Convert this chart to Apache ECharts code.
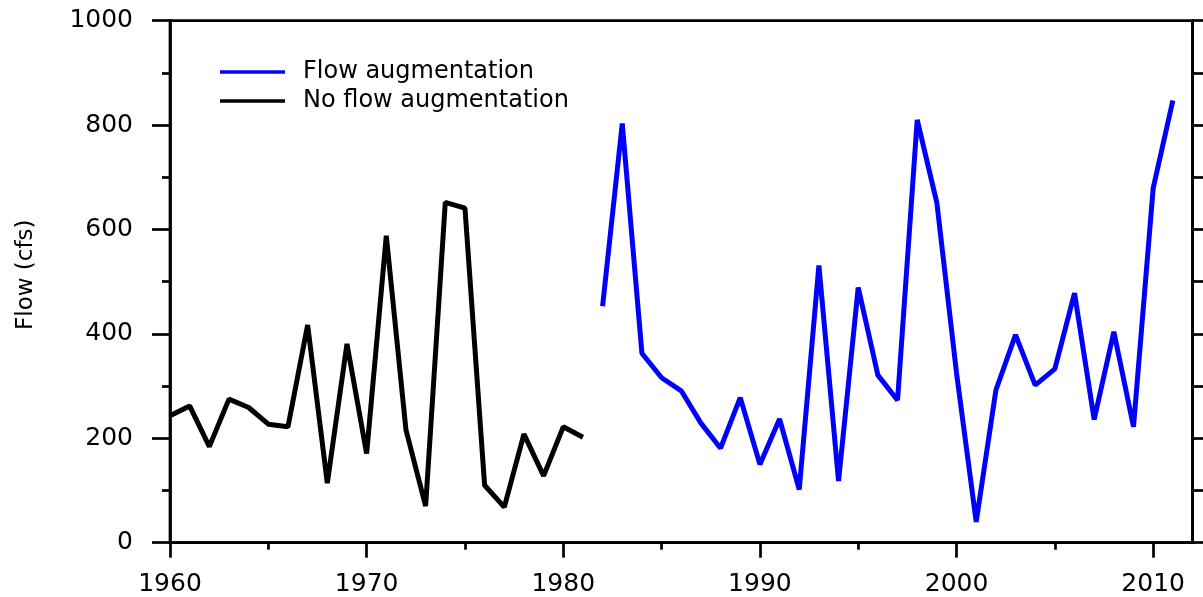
<!DOCTYPE html>
<html>
<head>
<meta charset="utf-8">
<title>Flow</title>
<script src="https://cdn.jsdelivr.net/npm/echarts@6/dist/echarts.min.js"></script>
<style>
  html, body { margin: 0; padding: 0; background: #fff; }
  #chart { width: 1203px; height: 597px; }
</style>
</head>
<body>
<div id="chart"></div>
<script>
// years and flows
const noAugYears = [1960, 1961, 1962, 1963, 1964, 1965, 1966, 1967, 1968, 1969, 1970,
    1971, 1972, 1973, 1974, 1975, 1976, 1977, 1978, 1979, 1980, 1981];
const noAugFlow = [243, 262, 184, 275, 259, 227, 222, 417, 114, 381, 171,
    588, 216, 70, 652, 641, 110, 68, 208, 128, 222, 202];

const augYears = [1982, 1983, 1984, 1985, 1986, 1987, 1988, 1989, 1990, 1991, 1992,
    1993, 1994, 1995, 1996, 1997, 1998, 1999, 2000, 2001, 2002, 2003, 2004, 2005,
    2006, 2007, 2008, 2009, 2010, 2011];
const augFlow = [453, 803, 363, 316, 291, 229, 181, 278, 150, 237, 102,
    531, 118, 489, 321, 273, 810, 651, 325, 40, 292, 398, 302, 333,
    478, 236, 404, 222, 679, 847];

const xMajorTicks = [1960, 1970, 1980, 1990, 2000, 2010];
const xMinorTicks = [1965, 1975, 1985, 1995, 2005];

const font = 'DejaVu Sans';

const chart = echarts.init(document.getElementById('chart'));

const toPairs = (xs, ys) => xs.map((x, i) => [x, ys[i]]);
const plain = v => String(v);

const option = {
    animation: false,
    backgroundColor: '#fff',
    grid: {
        left: 170,
        right: 10.5,
        top: 20.7,
        bottom: 54.3,
        show: true,
        borderColor: '#000',
        borderWidth: 2.7,
        backgroundColor: 'transparent'
    },
    legend: {
        left: 215,
        top: 55,
        orient: 'vertical',
        icon: 'rect',
        itemWidth: 65,
        itemHeight: 3.3,
        itemGap: 5,
        textStyle: { fontFamily: font, fontSize: 24, color: '#000', padding: [0, 0, 0, 13] },
        data: ['Flow augmentation', 'No flow augmentation']
    },
    xAxis: [
        {
            type: 'value',
            min: 1960,
            max: 2012,
            interval: 10,
            axisLine: { show: true, onZero: false, lineStyle: { color: '#000', width: 2.7 } },
            axisTick: { show: true, length: 15, lineStyle: { color: '#000', width: 2.7 }, customValues: xMajorTicks },
            axisLabel: {
                customValues: xMajorTicks,
                formatter: plain,
                margin: 29,
                color: '#000',
                fontFamily: font,
                fontSize: 25
            },
            splitLine: { show: false }
        },
        {
            type: 'value',
            min: 1960,
            max: 2012,
            position: 'bottom',
            axisLine: { show: false },
            axisTick: { show: true, length: 7, lineStyle: { color: '#000', width: 2.7 }, customValues: xMinorTicks },
            axisLabel: { show: false },
            splitLine: { show: false }
        }
    ],
    yAxis: [
        {
            type: 'value',
            min: 0,
            max: 1000,
            interval: 200,
            name: 'Flow (cfs)',
            nameLocation: 'middle',
            nameRotate: 90,
            nameGap: 132,
            nameTextStyle: { fontFamily: font, fontSize: 23, color: '#000', padding: [0, 0, 0, 14] },
            axisLine: { show: true, lineStyle: { color: '#000', width: 2.7 } },
            axisTick: { show: true, length: 18, lineStyle: { color: '#000', width: 2.7 } },
            minorTick: { show: true, splitNumber: 2, length: 8, lineStyle: { color: '#000', width: 2.7 } },
            axisLabel: { formatter: plain, margin: 37, color: '#000', fontFamily: font, fontSize: 25 },
            splitLine: { show: false }
        },
        {
            type: 'value',
            min: 0,
            max: 1000,
            interval: 100,
            position: 'right',
            axisLine: { show: true, lineStyle: { color: '#000', width: 2.7 } },
            axisTick: { show: true, length: 12, lineStyle: { color: '#000', width: 2.7 } },
            axisLabel: { show: false },
            splitLine: { show: false }
        }
    ],
    series: [
        {
            name: 'Flow augmentation',
            type: 'line',
            symbol: 'none',
            data: toPairs(augYears, augFlow),
            lineStyle: { color: '#0000ff', width: 5 },
            itemStyle: { color: '#0000ff' }
        },
        {
            name: 'No flow augmentation',
            type: 'line',
            symbol: 'none',
            data: toPairs(noAugYears, noAugFlow),
            lineStyle: { color: '#000', width: 5 },
            itemStyle: { color: '#000' }
        }
    ]
};

chart.setOption(option);
</script>
</body>
</html>
